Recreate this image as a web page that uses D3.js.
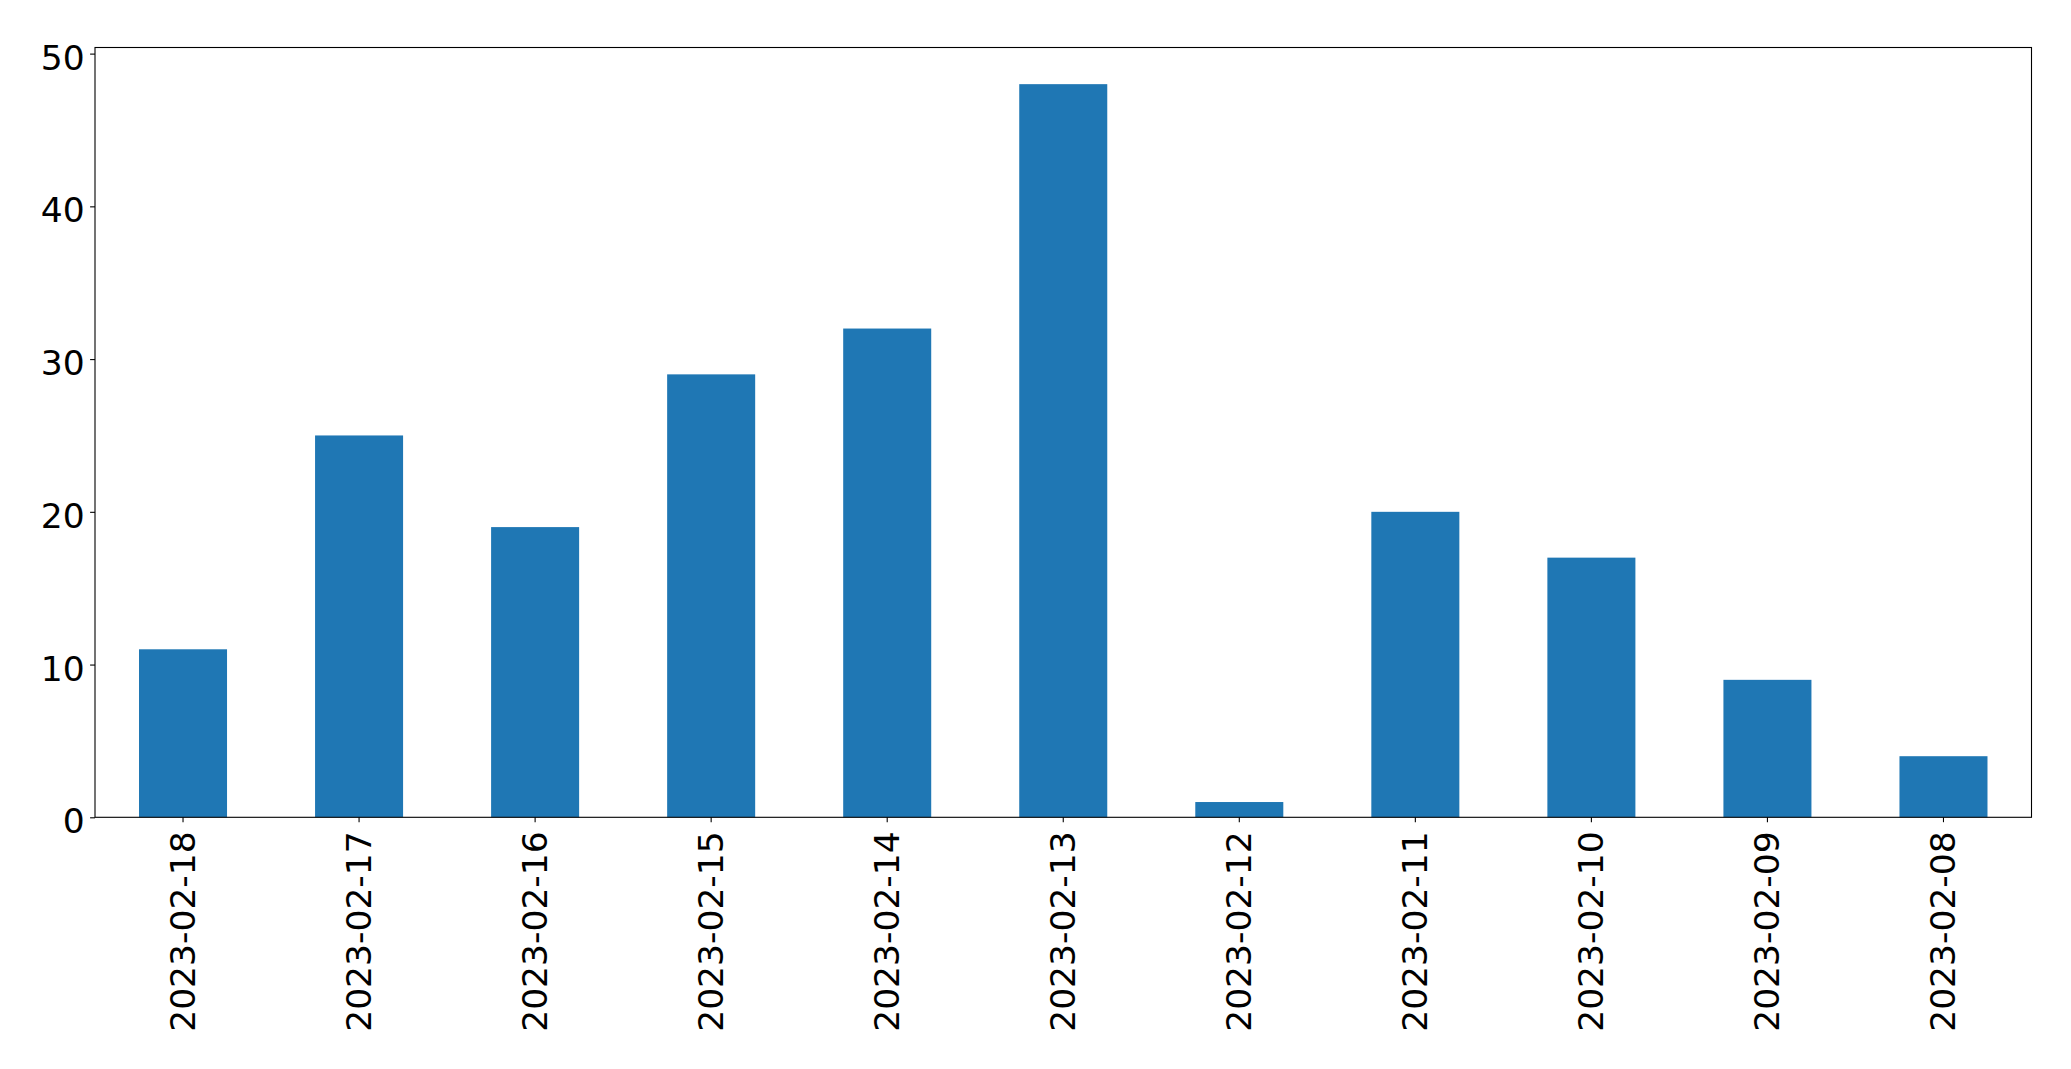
<!DOCTYPE html>
<html>
<head>
<meta charset="utf-8">
<script src="https://cdn.jsdelivr.net/npm/d3@7"></script>
<style>
  html, body { margin: 0; padding: 0; background: #fff; }
  svg { display: block; }
  text { font-family: "DejaVu Sans", sans-serif; }
</style>
</head>
<body>
<svg id="chart" width="2071" height="1069"></svg>
<script>
const categories = ["2023-02-18","2023-02-17","2023-02-16","2023-02-15","2023-02-14","2023-02-13","2023-02-12","2023-02-11","2023-02-10","2023-02-09","2023-02-08"];
const values = [11, 25, 19, 29, 32, 48, 1, 20, 17, 9, 4];
const yTicks = [0, 10, 20, 30, 40, 50];

const margin = {left: 95, right: 2071 - 2031.5, top: 47.5, bottom: 1069 - 817.3};
const W = 2071, H = 1069;
const svg = d3.select("#chart");
const fontSize = 34.5;

const x = d3.scaleBand()
  .domain(categories)
  .range([margin.left, W - margin.right])
  .paddingInner(0.5)
  .paddingOuter(0.25);

const y = d3.scaleLinear()
  .domain([0, d3.max(values) * 1.05])
  .range([H - margin.bottom, margin.top]);

// bars
svg.append("g")
  .selectAll("rect")
  .data(values)
  .join("rect")
  .attr("x", (d, i) => x(categories[i]))
  .attr("width", x.bandwidth())
  .attr("y", d => y(d))
  .attr("height", d => y(0) - y(d))
  .attr("fill", "#1f77b4");

// y axis
const yAxis = svg.append("g")
  .attr("transform", `translate(${margin.left},0)`)
  .call(d3.axisLeft(y).tickValues(yTicks).tickSize(4.9).tickPadding(5.5).tickFormat(d3.format("d")));
yAxis.select(".domain").remove();
yAxis.selectAll(".tick line").attr("stroke", "#000").attr("stroke-width", 1.1);
yAxis.selectAll(".tick text").attr("font-size", fontSize).attr("fill", "#000")
  .attr("font-family", "DejaVu Sans").attr("dy", "0.45em");

// x axis
const xAxis = svg.append("g")
  .attr("transform", `translate(0,${H - margin.bottom})`)
  .call(d3.axisBottom(x).tickSize(4.9).tickPadding(0));
xAxis.select(".domain").remove();
xAxis.selectAll(".tick line").attr("stroke", "#000").attr("stroke-width", 1.1);
xAxis.selectAll(".tick text")
  .attr("font-size", fontSize)
  .attr("fill", "#000")
  .attr("font-family", "DejaVu Sans")
  .attr("text-anchor", "end")
  .attr("dy", null)
  .attr("y", 0)
  .attr("dominant-baseline", "central")
  .attr("transform", "translate(0, 14) rotate(-90)");

// frame
svg.append("rect")
  .attr("x", margin.left)
  .attr("y", margin.top)
  .attr("width", W - margin.right - margin.left)
  .attr("height", H - margin.bottom - margin.top)
  .attr("fill", "none")
  .attr("stroke", "#000")
  .attr("stroke-width", 1.1);
</script>
</body>
</html>
